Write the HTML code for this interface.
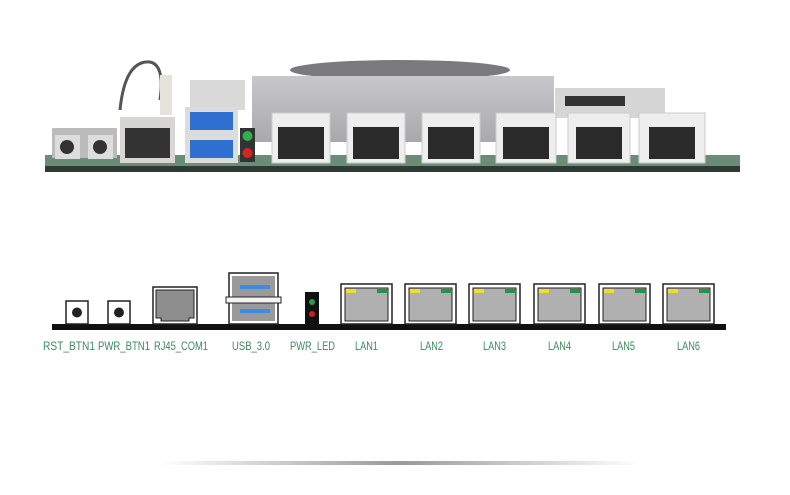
<!DOCTYPE html>
<html><head><meta charset="utf-8"><style>
html,body{margin:0;padding:0;background:#fff}
svg{display:block}
text{font-family:"Liberation Sans",sans-serif;font-size:12px;fill:#3d8a5e}
</style></head><body>
<svg width="790" height="495" viewBox="0 0 790 495" xmlns="http://www.w3.org/2000/svg">
<defs>
<linearGradient id="sh" x1="0" x2="1" y1="0" y2="0">
<stop offset="0" stop-color="#fff"/><stop offset="0.5" stop-color="#999"/><stop offset="1" stop-color="#fff"/>
</linearGradient>
<linearGradient id="hs" x1="0" x2="0" y1="0" y2="1">
<stop offset="0" stop-color="#c8c8cc"/><stop offset="1" stop-color="#a9a9ad"/>
</linearGradient>
</defs>
<ellipse cx="400" cy="70" rx="110" ry="10" fill="#7a7a7e"/>
<rect x="252" y="76" width="302" height="66" fill="url(#hs)"/>
<path d="M120 110 Q125 60 150 62 Q165 65 160 100" fill="none" stroke="#555" stroke-width="3"/>
<rect x="160" y="75" width="12" height="40" fill="#e6e2dc"/>
<rect x="190" y="80" width="55" height="30" fill="#d9d9d9"/>
<rect x="555" y="88" width="110" height="30" fill="#d6d6d6"/>
<rect x="565" y="96" width="60" height="10" fill="#333"/>
<rect x="45" y="155" width="695" height="12" fill="#6b8d77"/>
<rect x="45" y="166" width="695" height="6" fill="#2e3a33"/>
<rect x="52" y="128" width="65" height="30" fill="#bbb"/>
<rect x="55" y="135" width="25" height="24" fill="#ddd"/><circle cx="67" cy="147" r="7" fill="#333"/>
<rect x="88" y="135" width="25" height="24" fill="#ddd"/><circle cx="100" cy="147" r="7" fill="#333"/>
<rect x="120" y="117" width="55" height="46" fill="#d8d6d2"/><rect x="125" y="128" width="45" height="30" fill="#333"/>
<rect x="185" y="107" width="53" height="56" fill="#dcdcdc"/>
<rect x="190" y="112" width="43" height="18" fill="#2f6fd0"/><rect x="190" y="140" width="43" height="18" fill="#2f6fd0"/>
<rect x="240" y="128" width="15" height="34" fill="#333"/>
<circle cx="247.5" cy="136" r="5" fill="#2fb04a"/><circle cx="247.5" cy="153" r="5" fill="#d2261e"/>
<g fill="#eeeeee" stroke="#ccc">
<rect x="272" y="113" width="58" height="50"/><rect x="347" y="113" width="58" height="50"/><rect x="422" y="113" width="58" height="50"/>
<rect x="496" y="113" width="60" height="50"/><rect x="568" y="113" width="62" height="50"/><rect x="639" y="113" width="66" height="50"/>
</g>
<g fill="#2a2a2a">
<rect x="278" y="127" width="46" height="32"/><rect x="353" y="127" width="46" height="32"/><rect x="428" y="127" width="46" height="32"/>
<rect x="503" y="127" width="46" height="32"/><rect x="576" y="127" width="46" height="32"/><rect x="649" y="127" width="46" height="32"/>
</g>
<rect x="160" y="461" width="480" height="4" fill="url(#sh)"/>
<rect x="52" y="324" width="674" height="6" fill="#111"/>
<g fill="#fff" stroke="#222" stroke-width="1.5">
<rect x="66" y="301" width="22" height="23"/><rect x="108" y="301" width="22" height="23"/>
</g>
<circle cx="77" cy="312.5" r="5" fill="#222"/><circle cx="119" cy="312.5" r="5" fill="#222"/>
<rect x="153" y="287" width="44" height="37" fill="#fff" stroke="#222" stroke-width="1.5"/>
<path d="M156 290 H194 V318 H189 V321 H161 V318 H156 Z" fill="#8e8e8e" stroke="#222" stroke-width="1"/>
<rect x="229" y="273" width="49" height="51" fill="#fff" stroke="#222" stroke-width="1.5"/>
<rect x="232" y="276" width="43" height="45" fill="#9a9a9a"/>
<rect x="240" y="285" width="30" height="4" fill="#3a8fe0"/><rect x="240" y="309" width="30" height="4" fill="#3a8fe0"/>
<rect x="226" y="297" width="55" height="6" fill="#f4f4f4" stroke="#222" stroke-width="1"/>
<rect x="305" y="292" width="14" height="33" fill="#111"/>
<circle cx="312" cy="302" r="3" fill="#2a9a4a"/><circle cx="312" cy="314" r="3" fill="#c8221e"/>
<g>
<g transform="translate(341,284)"><rect x="0" y="0" width="51" height="40" fill="#fff" stroke="#222" stroke-width="1.5"/><rect x="4" y="4" width="43" height="33" fill="#b0b0b0" stroke="#222"/><rect x="5" y="5" width="10" height="4" fill="#f0e020"/><rect x="36" y="5" width="10" height="4" fill="#1a9a40"/></g>
<g transform="translate(405,284)"><rect x="0" y="0" width="51" height="40" fill="#fff" stroke="#222" stroke-width="1.5"/><rect x="4" y="4" width="43" height="33" fill="#b0b0b0" stroke="#222"/><rect x="5" y="5" width="10" height="4" fill="#f0e020"/><rect x="36" y="5" width="10" height="4" fill="#1a9a40"/></g>
<g transform="translate(469,284)"><rect x="0" y="0" width="51" height="40" fill="#fff" stroke="#222" stroke-width="1.5"/><rect x="4" y="4" width="43" height="33" fill="#b0b0b0" stroke="#222"/><rect x="5" y="5" width="10" height="4" fill="#f0e020"/><rect x="36" y="5" width="10" height="4" fill="#1a9a40"/></g>
<g transform="translate(534,284)"><rect x="0" y="0" width="51" height="40" fill="#fff" stroke="#222" stroke-width="1.5"/><rect x="4" y="4" width="43" height="33" fill="#b0b0b0" stroke="#222"/><rect x="5" y="5" width="10" height="4" fill="#f0e020"/><rect x="36" y="5" width="10" height="4" fill="#1a9a40"/></g>
<g transform="translate(599,284)"><rect x="0" y="0" width="51" height="40" fill="#fff" stroke="#222" stroke-width="1.5"/><rect x="4" y="4" width="43" height="33" fill="#b0b0b0" stroke="#222"/><rect x="5" y="5" width="10" height="4" fill="#f0e020"/><rect x="36" y="5" width="10" height="4" fill="#1a9a40"/></g>
<g transform="translate(663,284)"><rect x="0" y="0" width="51" height="40" fill="#fff" stroke="#222" stroke-width="1.5"/><rect x="4" y="4" width="43" height="33" fill="#b0b0b0" stroke="#222"/><rect x="5" y="5" width="10" height="4" fill="#f0e020"/><rect x="36" y="5" width="10" height="4" fill="#1a9a40"/></g>
</g>
<text x="43" y="350" textLength="52" lengthAdjust="spacingAndGlyphs">RST_BTN1</text>
<text x="98" y="350" textLength="52" lengthAdjust="spacingAndGlyphs">PWR_BTN1</text>
<text x="154" y="350" textLength="54" lengthAdjust="spacingAndGlyphs">RJ45_COM1</text>
<text x="232" y="350" textLength="38" lengthAdjust="spacingAndGlyphs">USB_3.0</text>
<text x="290" y="350" textLength="45" lengthAdjust="spacingAndGlyphs">PWR_LED</text>
<text x="355" y="350" textLength="23" lengthAdjust="spacingAndGlyphs">LAN1</text>
<text x="420" y="350" textLength="23" lengthAdjust="spacingAndGlyphs">LAN2</text>
<text x="483" y="350" textLength="23" lengthAdjust="spacingAndGlyphs">LAN3</text>
<text x="548" y="350" textLength="23" lengthAdjust="spacingAndGlyphs">LAN4</text>
<text x="612" y="350" textLength="23" lengthAdjust="spacingAndGlyphs">LAN5</text>
<text x="677" y="350" textLength="23" lengthAdjust="spacingAndGlyphs">LAN6</text>
</svg>
</body></html>
